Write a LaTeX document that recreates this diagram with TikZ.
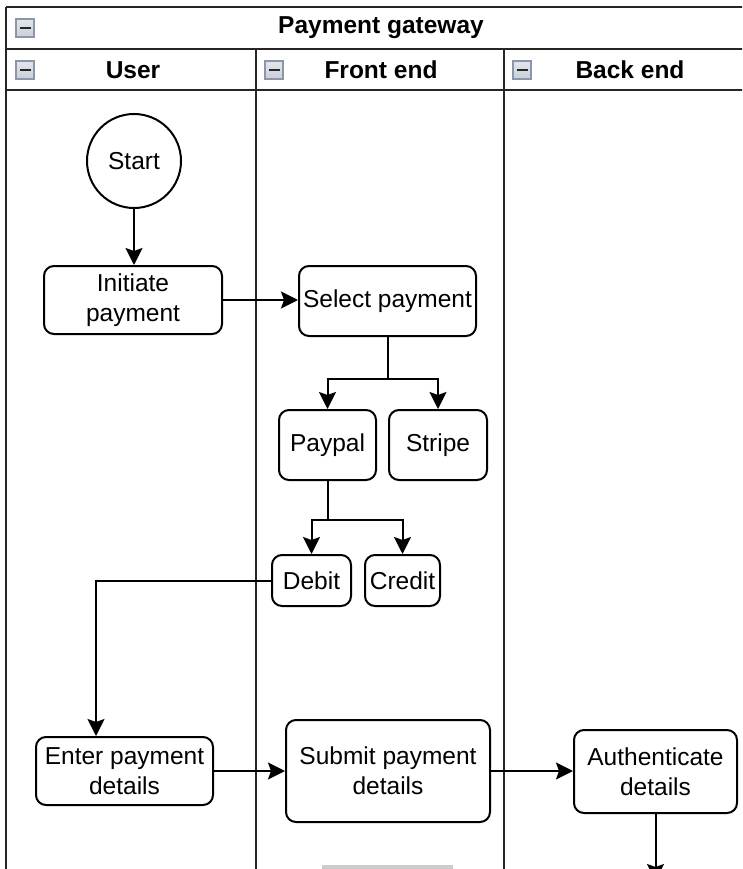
\documentclass[tikz,border=0pt]{standalone}
\usepackage{fontspec}
\setmainfont{Liberation Sans}
\usetikzlibrary{arrows.meta,calc}
\definecolor{iconfill}{HTML}{C9CED8}
\definecolor{iconedge}{HTML}{8C96AA}
\begin{document}
\begin{tikzpicture}[x=1pt,y=-1pt,
  every node/.style={font=\fontsize{24.5}{30}\selectfont},
  frame/.style={draw=black!85,line width=2pt},
  box/.style={draw=black,line width=2pt,rounded corners=10pt,fill=white,align=center,inner sep=0pt},
  conn/.style={draw=black,line width=2pt,-{Stealth[length=17pt,width=17pt,inset=3pt]}},
  hdr/.style={font=\fontsize{24.5}{30}\selectfont\bfseries}
]
\useasboundingbox (0,0) rectangle (742,869);
\clip (0,0) rectangle (742,869);
\fill[white] (0,0) rectangle (742,869);

% pool frame
\draw[frame] (6,7) -- (760,7);
\draw[frame] (6,7) -- (6,880);
\draw[frame] (6,49) -- (760,49);
\draw[frame] (6,90) -- (760,90);
\draw[frame] (256,49) -- (256,880);
\draw[frame] (504,49) -- (504,880);

% headers
\node[hdr] (title) at (381,28) {Payment gateway};
\node[hdr] (huser) at (133,70) {User};
\node[hdr] (hfront) at (381,70) {Front end};
\node[hdr] (hback) at (630,70) {Back end};

% minus icons
\foreach \ix/\iy in {16/19, 16/61, 265/61, 513/61}{
  \draw[draw=iconedge,top color=iconfill!50,bottom color=iconfill,line width=1.2pt] (\ix,\iy) rectangle ++(18,18);
  \fill[black!85] (\ix+3.5,\iy+7.8) rectangle ++(11,2.6);
}

% nodes
\node[draw=black,line width=2pt,circle,minimum size=94pt,inner sep=0pt] (start) at (134,161) {Start};
\node[box,minimum width=178pt,minimum height=68pt] (init) at (133,300) {Initiate\\payment};
\node[box,minimum width=177pt,minimum height=70pt] (select) at (387.5,301) {Select payment};
\node[box,minimum width=97pt,minimum height=70pt] (paypal) at (327.5,445) {Paypal};
\node[box,minimum width=98pt,minimum height=70pt] (stripe) at (438,445) {Stripe};
\node[box,minimum width=79pt,minimum height=51pt] (debit) at (311.5,580.5) {Debit};
\node[box,minimum width=75pt,minimum height=51pt] (credit) at (402.5,580.5) {Credit};
\node[box,minimum width=177pt,minimum height=68pt] (enter) at (124.5,771) {Enter payment\\details};
\node[box,minimum width=204pt,minimum height=102pt] (submit) at (388,771) {Submit payment\\details};
\node[box,minimum width=163pt,minimum height=83pt] (auth) at (655.5,771.5) {Authenticate\\details};
\coordinate (authout) at (655.5,881);

% connectors
\draw[conn] (start.south) -- (start.south |- init.north);
\draw[conn] (init.east) -- (init.east -| select.west);
\draw[conn] (select.south) -- ++(0,42) -| (paypal.north);
\draw[conn] (select.south) -- ++(0,42) -| (stripe.north);
\draw[conn] (paypal.south) -- ++(0,39) -| (debit.north);
\draw[conn] (paypal.south) -- ++(0,39) -| (credit.north);
\draw[conn] (debit.west) -| ([xshift=-28.5pt]enter.north);
\draw[conn] (enter.east) -- (enter.east -| submit.west);
\draw[conn] (submit.east) -- (submit.east -| auth.west);
\draw[conn] (auth.south) -- (authout);

% partial shape at the bottom edge
\fill[black!20] (322,865) rectangle (453,872);
\end{tikzpicture}
\end{document}
